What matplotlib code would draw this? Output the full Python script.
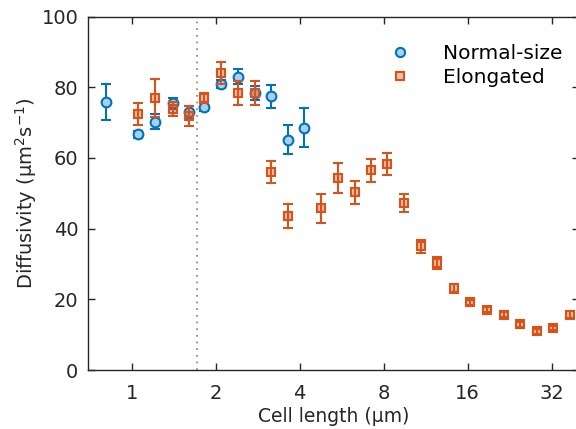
import numpy as np
import matplotlib
matplotlib.use("Agg")
import matplotlib.pyplot as plt

# ---- data ----
normal_x = [0.81, 1.05, 1.21, 1.40, 1.60, 1.82, 2.09, 2.40, 2.76, 3.16, 3.62, 4.16]
normal_y = [75.8, 66.7, 70.3, 75.4, 72.9, 74.4, 80.9, 83.0, 78.4, 77.4, 65.2, 68.6]
normal_err = [5.0, 1.0, 2.0, 1.5, 1.8, 1.0, 1.0, 2.1, 2.0, 3.3, 4.2, 5.6]

elong_x = [1.05, 1.21, 1.40, 1.60, 1.82, 2.09, 2.40, 2.76, 3.16, 3.62, 4.76, 5.50,
           6.30, 7.19, 8.24, 9.43, 10.9, 12.4, 14.3, 16.3, 18.7, 21.6, 24.7, 28.3,
           32.4, 37.1]
elong_y = [72.3, 76.9, 73.9, 71.8, 76.9, 84.0, 78.4, 78.4, 56.0, 43.7, 45.7, 54.4,
           50.3, 56.5, 58.4, 47.2, 35.0, 30.3, 23.1, 19.1, 17.0, 15.6, 12.9, 10.9,
           11.8, 15.7]
elong_err = [3.1, 5.4, 2.0, 2.8, 1.5, 3.0, 3.3, 3.3, 3.2, 3.4, 4.0, 4.3, 3.2, 3.2,
             3.1, 2.6, 1.9, 1.8, 1.2, 0.8, 0.7, 0.7, 0.7, 0.7, 0.6, 1.0]

x_ticks = [1, 2, 4, 8, 16, 32]
y_ticks = [0, 20, 40, 60, 80, 100]
divider_x = 1.71

BLUE = '#0072BD'
ORANGE = '#D95319'
TEXT = '#262626'

fig = plt.figure(figsize=(5.76, 4.29), dpi=100)
ax = fig.add_axes([0.1528, 0.1375, 0.852, 0.824])

ax.axvline(divider_x, color='#808080', linestyle=(0, (1, 3)), linewidth=1.2, zorder=1)

ax.errorbar(normal_x, normal_y, yerr=normal_err, fmt='o', color=BLUE,
            markersize=7, markerfacecolor='#A6D0EC', markeredgecolor=BLUE,
            markeredgewidth=1.5, elinewidth=1.5, capsize=3.5, capthick=1.5,
            label='Normal-size', zorder=3)
ax.errorbar(elong_x, elong_y, yerr=elong_err, fmt='s', color=ORANGE,
            markersize=6, markerfacecolor=(0.85, 0.33, 0.10, 0.38),
            markeredgecolor=ORANGE, markeredgewidth=1.5, elinewidth=1.5,
            capsize=3.5, capthick=1.5, label='Elongated', zorder=4)

ax.set_xscale('log', base=2)
ax.set_xlim(0.697, 40)
ax.set_ylim(0, 100)
ax.set_xticks(x_ticks)
ax.set_xticklabels([str(t) for t in x_ticks])
ax.minorticks_off()
ax.set_yticks(y_ticks)

ax.tick_params(direction='in', length=5, width=1, top=True, right=True,
               labelsize=14, colors=TEXT, pad=7)
ax.tick_params(axis='x', pad=10)
for s in ax.spines.values():
    s.set_color(TEXT)
    s.set_linewidth(1.0)

ax.set_xlabel('Cell length (\u03bcm)', fontsize=13.5, color=TEXT, labelpad=3)
ax.set_ylabel('Diffusivity (\u03bcm$^2$s$^{-1}$)', fontsize=14, color=TEXT, labelpad=2)

handles, labels = ax.get_legend_handles_labels()
handles = [h[0] for h in handles]
fig.legend(handles, labels, loc='upper left', bbox_to_anchor=(390 / 576, 1 - 44 / 429),
           frameon=False, fontsize=14.5, handlelength=1.0, handletextpad=1.65,
           labelspacing=0.25, borderpad=0, borderaxespad=0, markerscale=0.95)

fig.savefig('out.png', dpi=100)
